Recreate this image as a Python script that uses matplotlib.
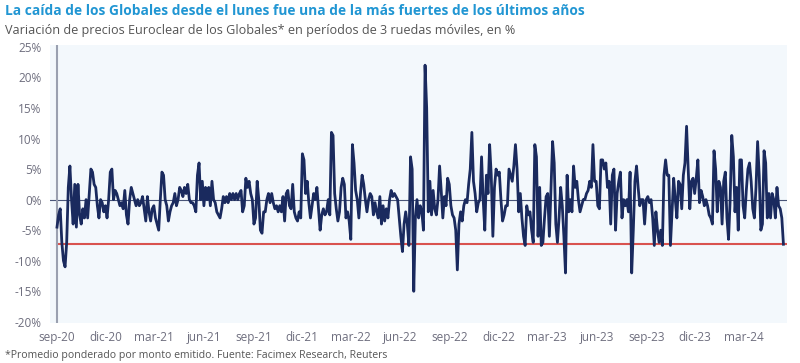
import numpy as np
import pandas as pd
import matplotlib.pyplot as plt
import matplotlib.dates as mdates

# variacion 3 ruedas (%)
serie_a = [-4.5, -2.5, -1.5, -7, -10, -11, -7, 2, 5.5, 0, -4, 2.5, -4.5, 2.5, -2.5, -4, -1.5, -3, 0, -3,
           1, 5, 4.5, 2.5, 2, -1, -3, 0, -0.5, -2, -1, -3, 0, 4.5, 5, 0, 1.5, 1, 0, -1,
           -0.5, -1.5, 1.5, -2.5, -4, 0, 2, 1, 0, -1, 0, -1, -0.5, 0.5, -1.5, -3.5, 0.5, -2, -3.5, -1.5,
           -1, -3, -4, -5, 0, 4.5, 4, 0, -1, -3.5, -2, -1, -0.5, 1, -1, 0, 2, 1.5, 0.5, 2,
           1, 2.5, 0, -0.5, -0.5, -1, -2, 4, 6, 0, 3, -1, 2, 0, 2, -1, 3, 0, -0.5, -2,
           -2.5, -3, -1.5, 0.5, -0.5, 0.5, -0.5, 1, 0, 1, 0, 1, 0, 1, 1.5, -2, -1, 3.5, 2, 3,
           1, 0, -4, -3, 3, 0, -5, -5.5, -2]
serie_b = [-2, 0, 1, -0.5, 1, -0.5, -1.5, -1, -2, -1, -2, 0.5, -3.5, 1, 1.5, -1, -1.5, 2.5, -2, -3,
           -3.5, -2, -3, 7.5, 6.5, 1, 3, -0.5, -3, -1, 1, 0, 2, -1.5, -5, -2.5, -1.5, -2.5, -2, 0,
           -2.5, 11, 10.5, 1, -1.5, -3.5, -2, 2, 3.5, 2.5, -3, -2, -3.5, -6.5, 9, 6, 1.5, 0, -3, 1,
           4, 2.5, 0, -2, 0, 1, 0.5, -2.5, -0.5, -2, -3, 0.5, -4, -1, -3.5, -1.5, -3, 0, 1.5, 0.5,
           1, 0.5, 0, -3, -6, -8.5, -4, -2, -4, -7.5, 7, 5, -15, -3, 0, -3, -1, -2, -5, 22,
           15, -2, 3, -2.5, 1.5, -1.5, -2.5, 0, 5.5, 1.5, -3, 0.5, -1, 3.5, 2.5, -1, -2.5, -3, -5, -11.5,
           -4, -2, -3.5, -1, 0, -0.5, 2.5, 5, 11, 3, 1, -2, -0.5, 0, 7, 0, -5, 4, 1, 9,
           4, -6, 2, 5, 4, 4.5, 0, -3.5, -2.5, -1, -1, 5, 4, 3, 5.5, 9]
serie_c = [5, -2, 1, -3, -6, -7.5, -1, -2.5, -2, -5, -7, 9, 7, -6, 2, -7.5, -7, -3, 0.5, 1,
           -6, 2, 9.5, 6, -4, -7, -3, 2, -1, -6, -12, 4, -2, 0, -2, 5.5, 2, 3, 0, -2,
           -1, 0, 0, 1, 1.5, 3, 2, 9, 3, 3, -1, -1.5, 6.5, 6.5, 5, 6, 2, 3, -4, 4,
           5, -5, 1, 3, 4.5, -3, 0, -1, 0, -2, 4.5, -12, -5, 3, 5.5, 2, -1, 0, 0, -4,
           0, 0.5, -0.5, 0, -3, -7.5, -2, -5, -7, -5, -7.5, 4, 6.5, 4, 4, -7.5, -2, 3.5, 0, -3,
           3, 2.5, -1.5, 4, 6, 12, 5, -1.5, 3, 3.5, 1, 3.5, 6.5, -0.5, 1.5, 0.5, -1, 0, -1, -2.5,
           -3, -4, 8, 5, -2, 3, 2, -4, 3, 4.5, -3, -6.5, 0, 10.5, 7, -2, 2, -5, 6.5, 6.5,
           -1, -3, 1.5, 5, 6, 3, -1.5, -3, 2, 9.5, 4, -5, -4, 8, 6, -3, 1, -3, 1, 0,
           -3, 2, -1, -1.5, -3, -7.3]
valores = serie_a + serie_b + serie_c
inicio = "2020-09-01"
fin = "2024-05-13"
umbral = -7.3

ticks = pd.date_range("2020-09-01", "2024-03-01", freq="3MS")
meses = {3: "mar", 6: "jun", 9: "sep", 12: "dic"}
etiquetas = [f"{meses[d.month]}-{d.strftime('%y')}" for d in ticks]

fechas = pd.date_range(inicio, fin, periods=len(valores))

plt.rcParams["font.family"] = ["Open Sans", "DejaVu Sans"]
fig = plt.figure(figsize=(8, 3.63), dpi=100)
ax = fig.add_axes([0.0625, 0.11, 0.9215, 0.766])
ax.set_facecolor("#F3F8FC")

ax.plot(fechas, valores, color="#1A2A5E", lw=2.0, zorder=3)
ax.axhline(0, color="#4A5578", lw=0.8, zorder=2)
ax.plot([fechas[0], pd.Timestamp(fin) + pd.Timedelta(days=7)], [umbral, umbral],
        color="#D9534F", lw=1.5, zorder=2)
ax.axvline(fechas[0], color="#9AA0B0", lw=1.5, zorder=2)

ax.set_xlim(pd.Timestamp(inicio) - pd.Timedelta(days=13), pd.Timestamp(fin) + pd.Timedelta(days=7))
ax.set_ylim(-20.2, 25.3)
ax.set_yticks(range(-20, 26, 5))
ax.set_yticklabels([f"{v}%" for v in range(-20, 26, 5)])
ax.set_xticks(ticks)
ax.set_xticklabels(etiquetas)
ax.tick_params(length=0, labelsize=8.5, colors="#6E6E7E", pad=6)
ax.tick_params(axis="y", pad=6)
for s in ax.spines.values():
    s.set_visible(False)

fig.text(0.006, 0.99, "La caída de los Globales desde el lunes fue una de la más fuertes de los últimos años",
         color="#2196D3", fontsize=9.9, fontweight="bold", va="top")
fig.text(0.006, 0.935, "Variación de precios Euroclear de los Globales* en períodos de 3 ruedas móviles, en %",
         color="#555555", fontsize=9.1, va="top")
fig.text(0.006, 0.005, "*Promedio ponderado por monto emitido. Fuente: Facimex Research, Reuters",
         color="#555555", fontsize=7.6, va="bottom")

fig.savefig("out.png", dpi=100)
